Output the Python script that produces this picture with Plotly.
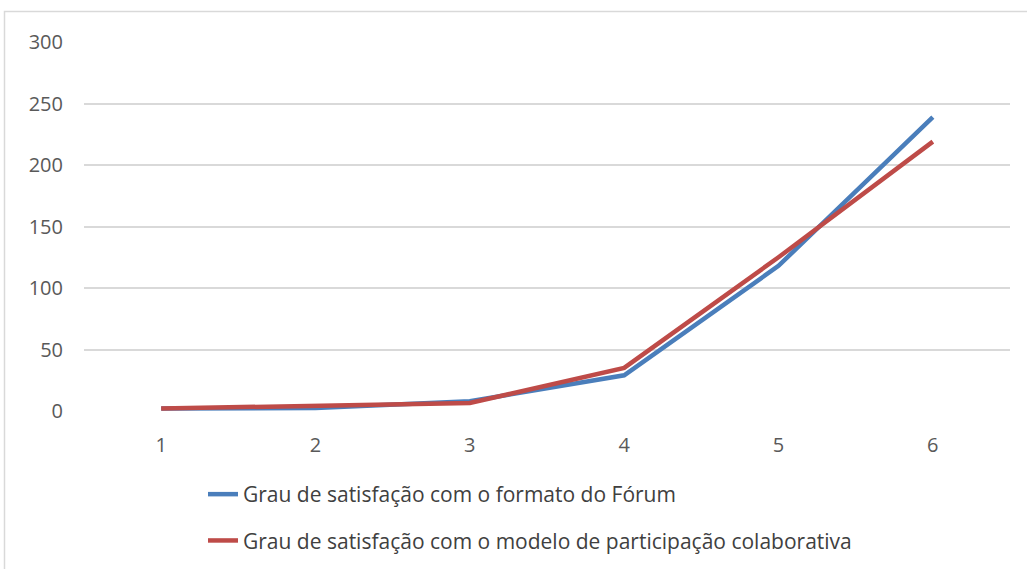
import plotly.graph_objects as go

categories = ["1", "2", "3", "4", "5", "6"]
forum_format = [2, 2.5, 8, 29, 118, 239]
collab_model = [2, 4.5, 6.5, 35, 125, 219]
series_names = ["Grau de satisfação com o formato do Fórum",
                "Grau de satisfação com o modelo de participação colaborativa"]
y_ticks = [0, 50, 100, 150, 200, 250, 300]

W, H = 1027, 569
L, R, T, B = 84, 17, 42, 158
pw, ph = W - L - R, H - T - B

def px_x(p):
    return (p - L) / pw

def px_y(p):
    return (H - B - p) / ph

fig = go.Figure()
fig.add_trace(go.Scatter(x=categories, y=forum_format, mode="lines", name=series_names[0],
                         line=dict(color="#4A7EBB", width=4.5), legendgroup="a"))
fig.add_trace(go.Scatter(x=categories, y=collab_model, mode="lines", name=series_names[1],
                         line=dict(color="#BE4B48", width=4.5), legendgroup="b"))

fig.update_layout(
    width=W, height=H,
    margin=dict(l=L, r=R, t=T, b=B, autoexpand=False),
    paper_bgcolor="white", plot_bgcolor="white",
    font=dict(family="Open Sans", color="#595959", size=20),
    showlegend=True,
    legend=dict(x=px_x(203), y=px_y(474), xanchor="left", yanchor="top",
                font=dict(size=21, color="#404040"), tracegroupgap=16,
                traceorder="grouped", bgcolor="rgba(0,0,0,0)"),
    xaxis=dict(type="category", range=[-0.5, 5.5], showgrid=False, zeroline=False,
               showline=False, ticks="", ticklabelstandoff=20,
               tickfont=dict(size=20, color="#595959")),
    yaxis=dict(range=[0, 300], tickvals=y_ticks, showgrid=True, gridcolor="#D9D9D9",
               gridwidth=1.5, zeroline=False, showline=False, ticks="",
               ticklabelstandoff=20, tickfont=dict(size=20, color="#595959")),
    shapes=[dict(type="rect", xref="paper", yref="paper",
                 x0=px_x(4.5), x1=px_x(1030), y0=px_y(11.5), y1=px_y(575),
                 line=dict(color="#D9D9D9", width=1.5), fillcolor="rgba(0,0,0,0)", layer="below")],
)

fig.write_html("out.html", config={"displayModeBar": False},
               post_script="document.body.style.margin='0';document.body.style.overflow='hidden';")
